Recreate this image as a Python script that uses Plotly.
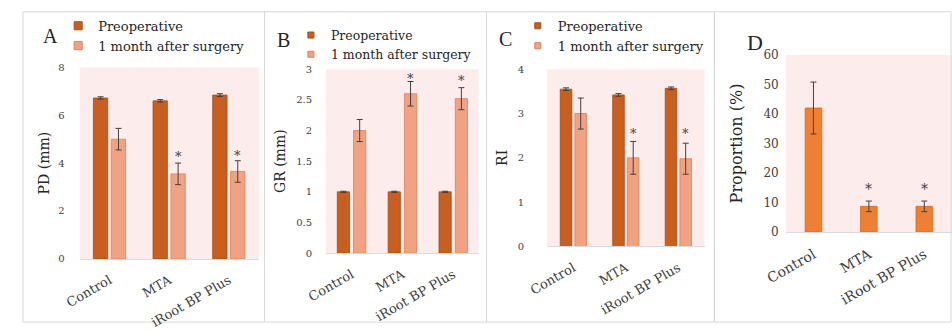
import plotly.graph_objects as go

W, H = 952, 331

groups = ["Control", "MTA", "iRoot BP Plus"]
series_names = ["Preoperative", "1 month after surgery"]

# Panel A: probing depth (mm)
pd_pre = [6.72, 6.60, 6.84]
pd_pre_err = [0.05, 0.05, 0.06]
pd_post = [5.0, 3.55, 3.65]
pd_post_err = [0.45, 0.45, 0.45]
pd_star = [None, 4.4, 4.45]

# Panel B: gingival recession (mm)
gr_pre = [1.0, 1.0, 1.0]
gr_pre_err = [0.01, 0.01, 0.01]
gr_post = [2.0, 2.6, 2.52]
gr_post_err = [0.18, 0.2, 0.18]
gr_star = [None, 2.9, 2.87]

# Panel C: RI
ri_pre = [3.55, 3.42, 3.57]
ri_pre_err = [0.03, 0.03, 0.03]
ri_post = [3.0, 2.0, 1.98]
ri_post_err = [0.35, 0.37, 0.35]
ri_star = [None, 2.62, 2.62]

# Panel D: proportion (%)
prop = [42.0, 8.7, 8.7]
prop_err = [8.8, 1.8, 1.8]
prop_star = [None, 15.5, 15.5]

DARK = "#C85F20"
DARK_EDGE = "#A14C17"
LIGHT = "#F0A283"
LIGHT_EDGE = "#D9825C"
MID = "#EE7F33"
BG = "#FDECEC"
ERR = "#404040"
SERIF = "DejaVu Serif, serif"
TXT = "#404040"


def fx(px):
    return px / W


def fy(py):
    return 1 - py / H


# plot areas in pixels: (left, right, top, bottom)
panels = {
    "A": dict(box=(60, 243, 63, 263), rng=[0, 8], dtick=2),
    "B": dict(box=(312, 468, 65, 257), rng=[0, 3], dtick=0.5),
    "C": dict(box=(538, 699, 65, 250), rng=[0, 4], dtick=1),
    "D": dict(box=(782, 953, 50, 235), rng=[0, 60], dtick=10),
}

fig = go.Figure()

paired = [
    ("A", "x", "y", pd_pre, pd_pre_err, pd_post, pd_post_err, pd_star, "legend", 0.24, -0.27, 0.03, 8),
    ("B", "x2", "y2", gr_pre, gr_pre_err, gr_post, gr_post_err, gr_star, "legend2", 0.24, -0.28, 0.04, 6),
    ("C", "x3", "y3", ri_pre, ri_pre_err, ri_post, ri_post_err, ri_star, "legend3", 0.22, -0.25, 0.03, 6),
]

annotations = []
for key, xa, ya, pre, pre_e, post, post_e, star, leg, w, off1, off2, msize in paired:
    fig.add_trace(go.Bar(
        x=groups, y=pre, name=series_names[0], xaxis=xa, yaxis=ya,
        width=w, offset=off1, showlegend=False,
        marker=dict(color=DARK, line=dict(color=DARK_EDGE, width=0.8)),
        error_y=dict(type="data", array=pre_e, color=ERR, thickness=1, width=3),
    ))
    fig.add_trace(go.Bar(
        x=groups, y=post, name=series_names[1], xaxis=xa, yaxis=ya,
        width=w, offset=off2, showlegend=False,
        marker=dict(color=LIGHT, line=dict(color=LIGHT_EDGE, width=0.8)),
        error_y=dict(type="data", array=post_e, color=ERR, thickness=1, width=3),
    ))
    # small square swatches for the legend
    for name, col, edge in [(series_names[0], DARK, DARK_EDGE), (series_names[1], LIGHT, LIGHT_EDGE)]:
        fig.add_trace(go.Scatter(
            x=[None], y=[None], mode="markers", name=name, xaxis=xa, yaxis=ya,
            legend=leg, hoverinfo="skip",
            marker=dict(symbol="square", size=msize, color=col, line=dict(color=edge, width=1)),
        ))
    l, r, t, b = panels[key]["box"]
    cat_px = (r - l) / len(groups)
    for g, s in zip(groups, star):
        if s is None:
            continue
        annotations.append(dict(
            x=g, y=s, xref=xa, yref=ya, text="*", showarrow=False,
            xshift=(off2 + w / 2) * cat_px, yshift=-3,
            font=dict(family=SERIF, size=13, color=TXT),
        ))

fig.add_trace(go.Bar(
    x=groups, y=prop, name="Proportion", xaxis="x4", yaxis="y4",
    width=0.3, offset=-0.15, showlegend=False,
    marker=dict(color=MID, line=dict(color="#D9691F", width=0.8)),
    error_y=dict(type="data", array=prop_err, color=ERR, thickness=1, width=3),
))
for g, s in zip(groups, prop_star):
    if s is None:
        continue
    annotations.append(dict(
        x=g, y=s, xref="x4", yref="y4", text="*", showarrow=False, yshift=-3,
        font=dict(family=SERIF, size=14, color=TXT),
    ))

titles = {"A": "PD (mm)", "B": "GR (mm)", "C": "RI", "D": "Proportion (%)"}
layout = {}
suffix = {"A": "", "B": "2", "C": "3", "D": "4"}
label_pad = {"A": 14, "B": 13, "C": 22, "D": 6}
title_pad = {"A": 5, "B": 7, "C": 6, "D": 16}
for key, p in panels.items():
    l, r, t, b = p["box"]
    s = suffix[key]
    big = key == "D"
    layout["xaxis" + s] = dict(
        domain=[fx(l), min(fx(r), 1.0)], anchor="y" + s,
        type="category", tickangle=-30, showgrid=False, zeroline=False,
        showline=True, linecolor="#D6DCE5", linewidth=1, ticks="",
        ticklabelstandoff=8,
        tickfont=dict(family=SERIF, size=14 if big else 13, color=TXT),
        fixedrange=True,
    )
    layout["yaxis" + s] = dict(
        domain=[fy(b), fy(t)], anchor="x" + s, range=p["rng"], dtick=p["dtick"],
        showgrid=False, zeroline=False, showline=False, ticks="",
        ticklabelstandoff=label_pad[key],
        tickfont=dict(family=SERIF, size=12 if big else 10, color=TXT),
        title=dict(text=titles[key], standoff=title_pad[key],
                   font=dict(family=SERIF, size=16 if big else 14, color="#262626")),
        fixedrange=True,
    )

# panel letters
letters = [("A", 30, 30, 20), ("B", 268, 34, 20), ("C", 495, 33, 20), ("D", 751, 37, 22)]
for txt, x, y, size in letters:
    annotations.append(dict(
        x=fx(x), y=fy(y), xref="paper", yref="paper", text=txt, showarrow=False,
        xanchor="center", yanchor="middle",
        font=dict(family="Liberation Serif, serif", size=size, color="#262626"),
    ))

# panel frames
shapes = []
for x0, x1 in [(2, 249), (249, 476), (476, 709), (709, 951)]:
    shapes.append(dict(
        type="rect", xref="paper", yref="paper",
        x0=fx(x0), x1=fx(x1), y0=fy(329), y1=fy(5),
        line=dict(color="#D9D9D9", width=1), fillcolor="rgba(0,0,0,0)", layer="below",
    ))

legend_style = dict(
    bgcolor="rgba(0,0,0,0)", borderwidth=0, xanchor="left", yanchor="top",
    tracegroupgap=0, itemsizing="trace", orientation="v",
)
legend_font = dict(family=SERIF, size=13, color="#262626")
layout["legend"] = dict(x=fx(38), y=fy(4), font=legend_font, **legend_style)
layout["legend2"] = dict(x=fx(276), y=fy(14), font=dict(legend_font, size=12.5), **legend_style)
layout["legend3"] = dict(x=fx(508), y=fy(4), font=legend_font, **legend_style)

fig.update_layout(
    width=W, height=H, margin=dict(l=0, r=0, t=0, b=0),
    paper_bgcolor="white", plot_bgcolor=BG, barmode="overlay",
    annotations=annotations, shapes=shapes, **layout,
)

fig.write_html("out.html", include_plotlyjs=True, config={"displayModeBar": False})
